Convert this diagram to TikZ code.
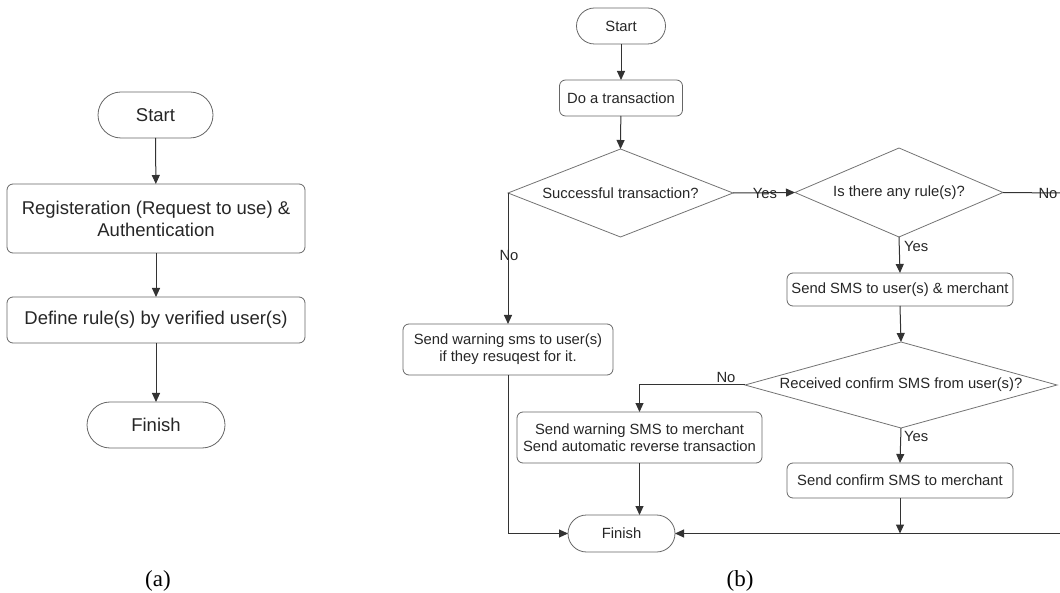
\documentclass[tikz,border=0pt]{standalone}
\usepackage{fontspec}
\setmainfont{Liberation Sans}
\newfontfamily\capfont{Liberation Serif}
\usetikzlibrary{shapes.geometric,arrows.meta}
\begin{document}
\begin{tikzpicture}[x=1pt,y=-1pt,
  every node/.style={inner sep=0pt,outer sep=0pt,text=black!85},
  bigtxt/.style={font=\fontsize{18.5}{22}\selectfont},
  smalltxt/.style={font=\fontsize{14.8}{17}\selectfont},
  termin/.style={draw=black!60,line width=0.8pt,align=center},
  procbox/.style={draw=black!60,line width=0.8pt,rounded corners=6pt,align=center},
  decbox/.style={draw=black!55,line width=0.8pt,diamond,align=center},
  conn/.style={draw=black!80,line width=1pt},
  arr/.style={conn,-{Triangle[length=9pt,width=8pt]}},
  lbl/.style={smalltxt},
  captxt/.style={font=\capfont\fontsize{23}{25}\selectfont,text=black}
]
\useasboundingbox (0,0) rectangle (1060,593);
% ---------- (a) ----------
\node[termin,bigtxt,minimum width=115,minimum height=46,rounded corners=23pt] (aS) at (155.5,115) {Start};
\node[procbox,bigtxt,minimum width=298,minimum height=69] (aR) at (156,218.5) {Registeration (Request to use) \&\\Authentication};
\node[procbox,bigtxt,minimum width=298,minimum height=46] (aD) at (156,320) {Define rule(s) by verified user(s)};
\node[termin,bigtxt,minimum width=138,minimum height=46,rounded corners=23pt] (aF) at (156,425) {Finish};
\draw[arr] (aS) -- (aR);
\draw[arr] (aR) -- (aD);
\draw[arr] (aD) -- (aF);
\node[captxt] (capa) at (158,581) {(a)};
% ---------- (b) ----------
\node[termin,smalltxt,minimum width=89,minimum height=36,rounded corners=18pt] (bS) at (621,26) {Start};
\node[procbox,smalltxt,minimum width=123,minimum height=36] (bT) at (621,98) {Do a transaction};
\node[decbox,smalltxt,aspect=2.56,minimum width=225,minimum height=88] (d1) at (620.5,193) {Successful transaction?};
\node[decbox,smalltxt,aspect=2.3,minimum width=208,minimum height=89] (d2) at (899,192.5) {Is there any rule(s)?};
\node[procbox,smalltxt,minimum width=226,minimum height=33] (sms) at (900,289.5) {Send SMS to user(s) \& merchant};
\node[decbox,smalltxt,aspect=3.6,minimum width=312,minimum height=86] (d3) at (901,385) {Received confirm SMS from user(s)?};
\node[procbox,smalltxt,minimum width=210,minimum height=51,align=center] (w1) at (508,349.5) {Send warning sms to user(s)\\if they resuqest for it.};
\node[procbox,smalltxt,minimum width=245,minimum height=51,align=center] (w2) at (639.5,437.5) {Send warning SMS to merchant\\Send automatic reverse transaction};
\node[procbox,smalltxt,minimum width=226,minimum height=35] (cf) at (900,480.5) {Send confirm SMS to merchant};
\node[termin,smalltxt,minimum width=107,minimum height=37,rounded corners=18.5pt] (bF) at (621.5,533.5) {Finish};
\coordinate (noR) at (1060,193);
\coordinate (inR) at (1060,533.5);
\coordinate (jn) at (900,533.5);
\draw[arr] (bS) -- (bT);
\draw[arr] (bT) -- (d1.north);
\draw[arr] (d1.east) -- (d2.west);
\draw[conn] (d2.east) -- (noR);
\draw[arr] (d2.south) -- (sms.north);
\draw[arr] (sms.south) -- (d3.north);
\draw[arr] (d1.west) -- (d1.west |- w1.north);
\draw[arr] (d3.west) -| (w2.north);
\draw[arr] (d3.south) -- (cf.north);
\draw[arr] (cf.south) -- (jn);
\draw[arr] (w1.south) |- (bF.west);
\draw[arr] (w2.south) -- (w2.south |- bF.north);
\draw[arr] (inR) -- (bF.east);
\node[lbl] (ly1) at (765,193) {Yes};
\node[lbl] (ln2) at (1048,193) {No};
\node[lbl,anchor=west] (ly2) at (904,246) {Yes};
\node[lbl] (ln1) at (509,255) {No};
\node[lbl] (ln3) at (726,377) {No};
\node[lbl,anchor=west] (ly3) at (904,436) {Yes};
\node[captxt] (capb) at (740,581) {(b)};
\end{tikzpicture}
\end{document}
